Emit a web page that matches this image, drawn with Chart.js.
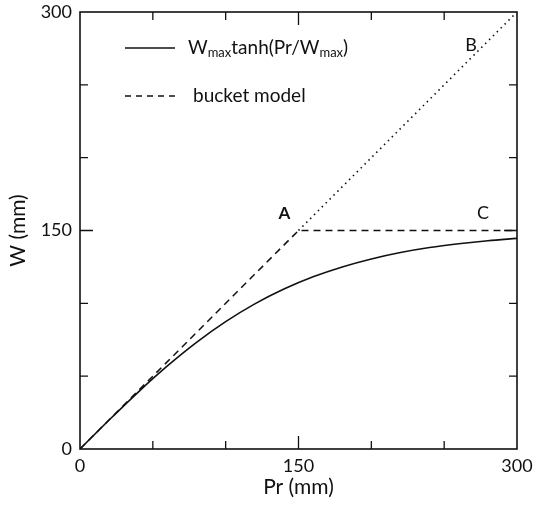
<!DOCTYPE html>
<html>
<head>
<meta charset="utf-8">
<script src="https://cdn.jsdelivr.net/npm/chart.js@4.4.1/dist/chart.umd.min.js"></script>
<style>
body{margin:0;background:#fff}
</style>
</head>
<body>
<canvas id="chart" width="545" height="505"></canvas>
<script>
// values
const prTanh = [0,20,40,60,80,100,120,140,160,180,200,220,240,260,280,300]
const wTanh  = [0,19.9,39.1,57.0,73.2,87.4,99.6,109.8,118.2,125.0,130.5,134.9,138.3,140.9,143.0,144.6]
const prBucket = [0,150,300]
const wBucket  = [0,150,150]
const prOne = [150,300]
const wOne  = [150,300]
const tickValues = [0,50,100,150,200,250,300]
const tickLabels = {0:"0",150:"150",300:"300"}

const ink = "#111"
const fontName = "Lato, 'DejaVu Sans', sans-serif"

function pts(xs, ys){
  return xs.map((x,i)=>({x:x, y:ys[i]}))
}

function setTicks(scale){
  scale.ticks = tickValues.map(v=>({value:v}))
}

const framePlugin = {
  id: "frame",
  afterDraw(chart){
    const ctx = chart.ctx
    const a = chart.chartArea
    const sx = chart.scales.x, sy = chart.scales.y
    ctx.save()
    ctx.strokeStyle = ink
    ctx.lineWidth = 1.6
    ctx.strokeRect(a.left, a.top, a.right-a.left, a.bottom-a.top)
    ctx.lineWidth = 1.3
    ctx.beginPath()
    tickValues.forEach(v=>{
      if(v==0 || v==300) return
      const len = v==150 ? 13 : 8
      const px = sx.getPixelForValue(v)
      ctx.moveTo(px, a.bottom); ctx.lineTo(px, a.bottom-len)
      ctx.moveTo(px, a.top); ctx.lineTo(px, a.top+len)
      const py = sy.getPixelForValue(v)
      ctx.moveTo(a.left, py); ctx.lineTo(a.left+len, py)
      ctx.moveTo(a.right, py); ctx.lineTo(a.right-len, py)
    })
    ctx.stroke()

    // legend
    const lx = a.left + 45
    ctx.lineWidth = 1.4
    ctx.beginPath()
    ctx.moveTo(lx, a.top+36); ctx.lineTo(lx+50, a.top+36)
    ctx.stroke()
    ctx.setLineDash([6,5])
    ctx.beginPath()
    ctx.moveTo(lx, a.top+84); ctx.lineTo(lx+50, a.top+84)
    ctx.stroke()
    ctx.setLineDash([])

    ctx.fillStyle = ink
    ctx.textBaseline = "middle"
    ctx.textAlign = "left"
    const big = "19px " + fontName
    const sub = "13px " + fontName
    let tx = lx + 63
    const ty = a.top + 36
    const parts = [["W",big,0],["max",sub,5],["tanh(Pr/",big,0],["W",big,0],["max",sub,5],[")",big,0]]
    parts.forEach(p=>{
      ctx.font = p[1]
      ctx.fillText(p[0], tx, ty + p[2])
      tx += ctx.measureText(p[0]).width
    })
    ctx.font = big
    ctx.fillText("bucket model", lx + 68, a.top + 84)

    // point labels
    ctx.font = "bold 17px " + fontName
    ctx.textAlign = "center"
    ctx.fillText("A", sx.getPixelForValue(150)-14, sy.getPixelForValue(150)-17)
    ctx.font = "18px " + fontName
    ctx.fillText("B", sx.getPixelForValue(300)-46, sy.getPixelForValue(300)+33)
    ctx.fillText("C", sx.getPixelForValue(300)-34, sy.getPixelForValue(150)-17)
    ctx.restore()
  }
}

new Chart(document.getElementById("chart"), {
  type: "scatter",
  data: {
    datasets: [
      {label:"tanh", data:pts(prTanh,wTanh), showLine:true, borderColor:ink, borderWidth:1.6, pointRadius:0, cubicInterpolationMode:"monotone"},
      {label:"bucket", data:pts(prBucket,wBucket), showLine:true, borderColor:ink, borderWidth:1.5, borderDash:[7,5], pointRadius:0},
      {label:"one", data:pts(prOne,wOne), showLine:true, borderColor:ink, borderWidth:1.6, borderDash:[1.5,4], pointRadius:0}
    ]
  },
  options: {
    responsive:false,
    animation:false,
    layout:{padding:{top:12, right:28, left:0, bottom:0}},
    plugins:{legend:{display:false}, tooltip:{enabled:false}},
    scales:{
      x:{
        type:"linear", min:0, max:300,
        afterBuildTicks:setTicks,
        afterFit(s){ s.height = 56; s.paddingLeft = 0; s.paddingRight = 0 },
        grid:{display:false, drawTicks:false, tickLength:0},
        border:{display:false},
        ticks:{autoSkip:false, maxRotation:0, padding:6, color:ink, font:{family:fontName,size:18},
          callback:v=>tickLabels[v] || ""},
        title:{display:true, text:"Pr (mm)", color:ink, font:{family:fontName,size:21}, padding:{top:0,bottom:5}}
      },
      y:{
        type:"linear", min:0, max:300,
        afterBuildTicks:setTicks,
        afterFit(s){ s.width = 80; s.paddingTop = 0; s.paddingBottom = 0 },
        grid:{display:false, drawTicks:false, tickLength:0},
        border:{display:false},
        ticks:{autoSkip:false, padding:8, color:ink, font:{family:fontName,size:18},
          callback:v=>tickLabels[v] || ""},
        title:{display:true, text:"W (mm)", color:ink, font:{family:fontName,size:21}, padding:{top:6,bottom:0}}
      }
    }
  },
  plugins:[framePlugin]
})
</script>
</body>
</html>
